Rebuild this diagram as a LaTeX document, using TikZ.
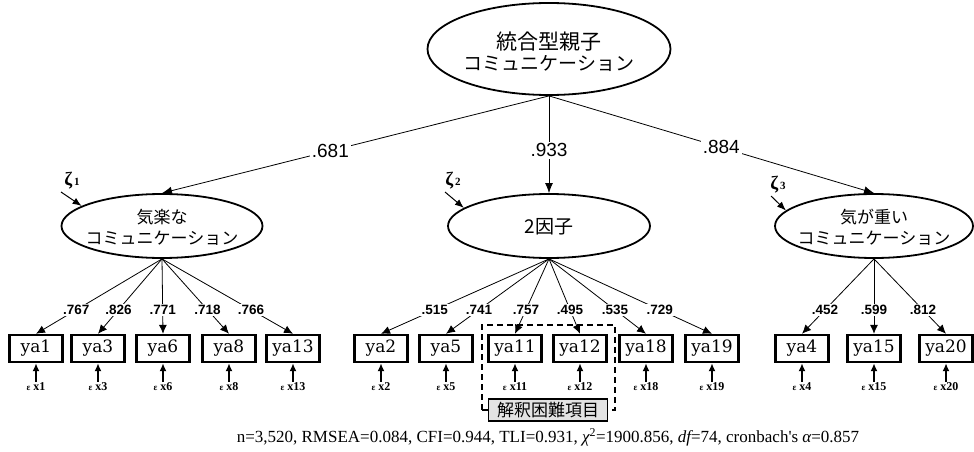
\documentclass[tikz,border=0pt]{standalone}
\usepackage{fontspec}
\setmainfont{Liberation Serif}
\newfontfamily\jp{Noto Sans CJK JP}
\newfontfamily\lsans{Liberation Sans}
\newfontfamily\dserif{DejaVu Serif}
\usetikzlibrary{arrows.meta,shapes.geometric}
\begin{document}
\begin{tikzpicture}[x=1pt,y=-1pt,
  lat/.style={ellipse,draw,line width=1.8pt,inner sep=0pt},
  jptext/.style={align=center,inner sep=0pt,font=\jp\fontsize{17}{21}\selectfont},
  obs/.style={rectangle,draw,line width=2.4pt,minimum width=53pt,minimum height=27pt,inner sep=0pt,font=\dserif\fontsize{17}{17}\selectfont},
  err/.style={inner sep=1pt,font=\bfseries\fontsize{12}{12}\selectfont},
  pathc/.style={line width=0.8pt,-{Latex[length=10pt,width=8pt]}},
  load/.style={line width=0.8pt,-{Latex[length=9pt,width=8pt]}},
  earrow/.style={line width=1.8pt,-{Latex[length=8pt,width=7pt]}},
  zarrow/.style={line width=1pt,-{Latex[length=9pt,width=7pt]}},
  plab/.style={fill=white,inner sep=2pt,font=\lsans\fontsize{19}{19}\selectfont},
  llab/.style={fill=white,inner sep=1.5pt,pos=0.68,font=\lsans\bfseries\fontsize{13.5}{13.5}\selectfont},
  zlab/.style={inner sep=0pt,font=\bfseries\fontsize{19}{19}\selectfont}
]
\path[use as bounding box] (0,0) rectangle (974,452);

% latent variables
\node[lat,minimum width=243pt,minimum height=92pt] (top) at (549,49) {};
\node[jptext] (topt) at (549,52) {{\fontsize{21}{29}\selectfont 統合型親子}\\{\fontsize{19}{22}\selectfont コミュニケーション}};
\node[lat,minimum width=201pt,minimum height=64pt] (f1) at (162,226) {};
\node[jptext] (f1t) at (162,227) {気楽な\\コミュニケーション};
\node[lat,minimum width=202pt,minimum height=64pt] (f2) at (549,226) {};
\node[jptext,font=\jp\fontsize{19}{19}\selectfont] (f2t) at (549,227) {2因子};
\node[lat,minimum width=198pt,minimum height=64pt] (f3) at (874,226) {};
\node[jptext] (f3t) at (874,227) {気が重い\\コミュニケーション};

% second-order paths
\draw[pathc] (top.south) -- node[plab,pos=0.565]{.681} (f1.north);
\draw[pathc] (top.south) -- node[plab,pos=0.56]{.933} (f2.north);
\draw[pathc] (top.south) -- node[plab,pos=0.53]{.884} (f3.north);

% disturbances
\node[zlab] (z1) at (72,181) {ζ{\fontsize{11}{11}\selectfont\,1}};
\coordinate (z1a) at (61,192);
\draw[zarrow] (z1a) -- (f1.166);
\node[zlab] (z2) at (453,181) {ζ{\fontsize{11}{11}\selectfont\,2}};
\coordinate (z2a) at (445,192);
\draw[zarrow] (z2a) -- (f2.168);
\node[zlab] (z3) at (778,185) {ζ{\fontsize{11}{11}\selectfont\,3}};
\coordinate (z3a) at (771,196);
\draw[zarrow] (z3a) -- (f3.170);

% grouping box
\node[draw,dashed,line width=1.2pt,dash pattern=on 6pt off 4pt,minimum width=133pt,minimum height=85pt,inner sep=0pt] (grp) at (548.5,367.5) {};
\node[draw,fill=gray!22,line width=1.8pt,minimum width=119pt,minimum height=22pt,inner sep=0pt,font=\jp\fontsize{17}{17}\selectfont] (hard) at (548,410) {解釈困難項目};

% observed variables
\foreach \n/\x in {1/36,3/98,6/163,8/229,13/293,2/381,5/446,11/515,12/580,18/646,19/712,4/802,15/874,20/946}{
  \node[obs] (ya\n) at (\x,348.5) {ya\n};
  \node[err] (e\n) at (\x,387) {{\fontsize{9}{9}\selectfont ε} x\n};
  \draw[earrow] (e\n.north) -- (ya\n.south);
}

% loadings
\draw[load] (f1.south) -- node[llab]{.767} (ya1.north);
\draw[load] (f1.south) -- node[llab]{.826} (ya3.north);
\draw[load] (f1.south) -- node[llab]{.771} (ya6.north);
\draw[load] (f1.south) -- node[llab]{.718} (ya8.north);
\draw[load] (f1.south) -- node[llab]{.766} (ya13.north);
\draw[load] (f2.south) -- node[llab]{.515} (ya2.north);
\draw[load] (f2.south) -- node[llab]{.741} (ya5.north);
\draw[load] (f2.south) -- node[llab]{.757} (ya11.north);
\draw[load] (f2.south) -- node[llab]{.495} (ya12.north);
\draw[load] (f2.south) -- node[llab]{.535} (ya18.north);
\draw[load] (f2.south) -- node[llab]{.729} (ya19.north);
\draw[load] (f3.south) -- node[llab]{.452} (ya4.north);
\draw[load] (f3.south) -- node[llab]{.599} (ya15.north);
\draw[load] (f3.south) -- node[llab]{.812} (ya20.north);

% fit indices
\node[inner sep=0pt,font=\fontsize{17}{17}\selectfont] (fit) at (548,437) {n=3,520, RMSEA=0.084, CFI=0.944, TLI=0.931, {\itshape χ}\textsuperscript{2}=1900.856, {\itshape df}=74, cronbach\textquotesingle s {\itshape α}=0.857};
\end{tikzpicture}
\end{document}
